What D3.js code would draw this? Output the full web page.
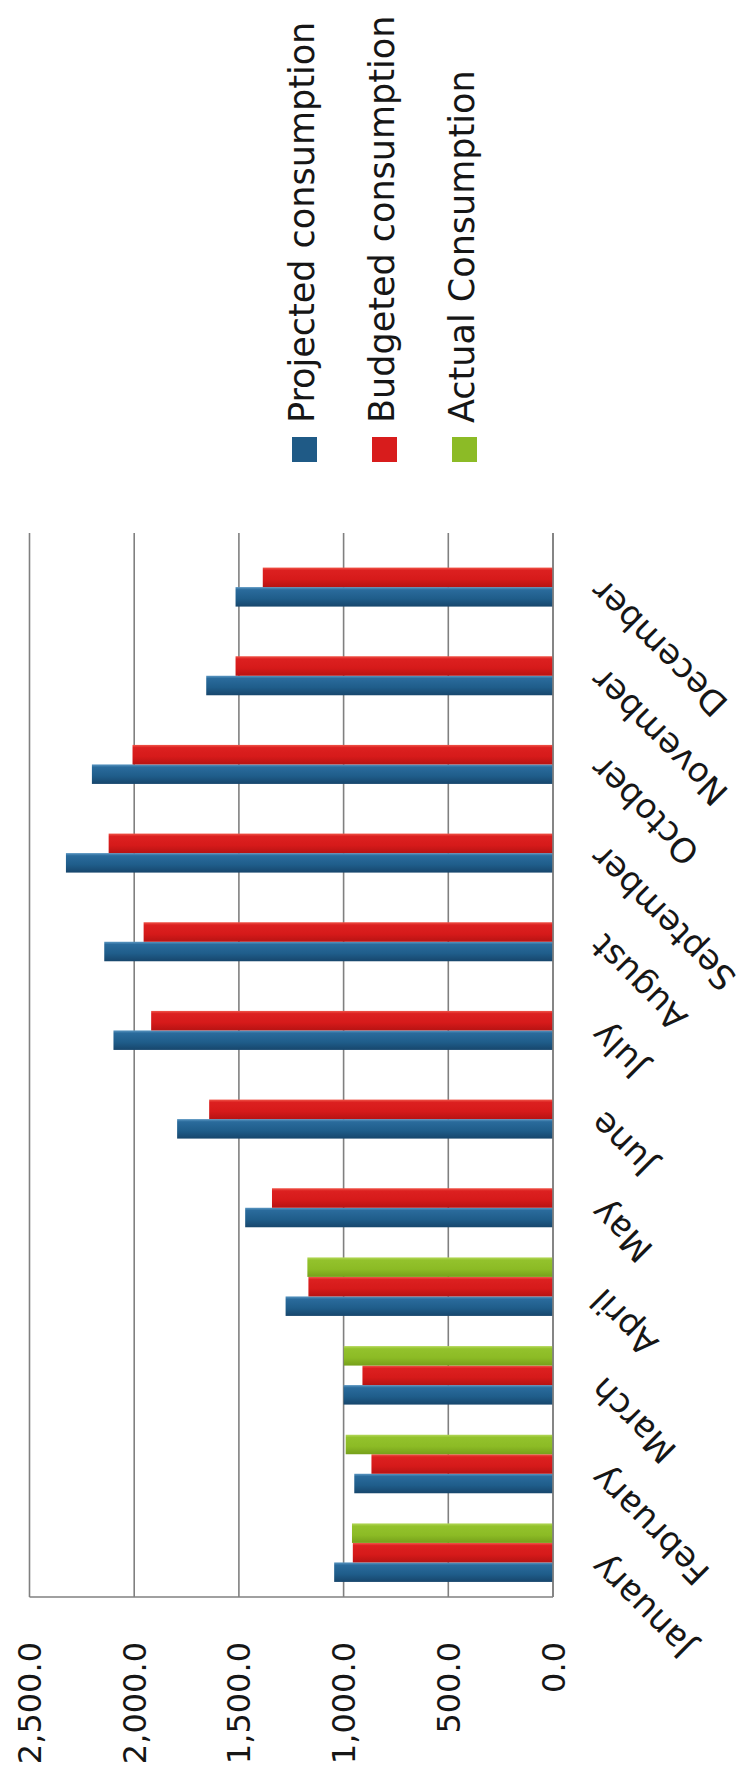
<!DOCTYPE html>
<html><head><meta charset="utf-8">
<script src="https://cdn.jsdelivr.net/npm/d3@7"></script>
<style>
body{margin:0;background:#fff}
text{font-family:"DejaVu Sans",sans-serif;fill:#161616}
</style>
</head><body>
<svg id="chart" width="750" height="1781"></svg>
<script>
// ---- data ----
const months = ["January","February","March","April","May","June","July","August","September","October","November","December"];
const seriesNames = ["Projected consumption","Budgeted consumption","Actual Consumption"];
const projected = [1045, 949, 1000, 1277, 1470, 1795, 2099, 2143, 2326, 2202, 1656, 1516];
const budgeted  = [ 956, 867,  910, 1168, 1342, 1642, 1919, 1955, 2122, 2008, 1516, 1386];
const actual    = [ 960, 990,  999, 1173, null, null, null, null, null, null, null, null];
const tickValues = [0, 500, 1000, 1500, 2000, 2500];
const tickLabels = ["0.0","500.0","1,000.0","1,500.0","2,000.0","2,500.0"];

// ---- style ----
const gradStops = {
  s0: [["0%","#5b97c2"],["14%","#2a6b9c"],["60%","#1f5d8a"],["100%","#17466c"]],
  s1: [["0%","#f0564a"],["14%","#dc2020"],["60%","#d61a1a"],["100%","#b71313"]],
  s2: [["0%","#b4d85a"],["14%","#93c22c"],["60%","#8cbb25"],["100%","#76a01b"]]
};
const swatchColors = ["#1f5a86","#d81c1c","#8cbb26"];

const svg = d3.select("#chart");
svg.append("rect").attr("width",750).attr("height",1781).attr("fill","#fff");

const defs = svg.append("defs");
Object.entries(gradStops).forEach(([id, stops]) => {
  const g = defs.append("linearGradient").attr("id","g"+id)
    .attr("x1",0).attr("y1",0).attr("x2",0).attr("y2",1);
  stops.forEach(s => g.append("stop").attr("offset",s[0]).attr("stop-color",s[1]));
});

const plotTop = 533, plotBottom = 1597;
const x = d3.scaleLinear().domain([0, 2500]).range([553, 29.5]);
const y = d3.scaleBand().domain(months).range([plotBottom, plotTop])
  .paddingInner(0.34).paddingOuter(0.17);
const keys = ["s2","s1","s0"]; // top to bottom within a group
const yi = d3.scaleBand().domain(keys).range([0, y.bandwidth()]);

// gridlines
svg.append("g").selectAll("line").data(tickValues).join("line")
  .attr("x1", d => x(d)).attr("x2", d => x(d))
  .attr("y1", plotTop).attr("y2", plotBottom)
  .attr("stroke", "#808080").attr("stroke-width", 1.6);

// bottom frame line
svg.append("line")
  .attr("x1", x(2500)).attr("x2", x(0))
  .attr("y1", plotBottom).attr("y2", plotBottom)
  .attr("stroke", "#808080").attr("stroke-width", 1.6);

// bars
const seriesData = [
  {key:"s0", values: projected},
  {key:"s1", values: budgeted},
  {key:"s2", values: actual}
];
const bars = svg.append("g");
seriesData.forEach(s => {
  bars.append("g").selectAll("rect")
    .data(months.map((m,i) => ({m, v: s.values[i]})).filter(d => d.v != null))
    .join("rect")
    .attr("x", d => x(d.v))
    .attr("width", d => x(0) - x(d.v))
    .attr("y", d => y(d.m) + yi(s.key))
    .attr("height", yi.bandwidth())
    .attr("fill", "url(#g" + s.key + ")");
});

// category axis line (value 0)
svg.append("line")
  .attr("x1", x(0)).attr("x2", x(0))
  .attr("y1", plotTop).attr("y2", plotBottom)
  .attr("stroke", "#808080").attr("stroke-width", 1.6);

// value tick labels
svg.append("g").selectAll("text").data(tickValues).join("text")
  .attr("transform", d => `translate(${x(d)},1642) rotate(-90)`)
  .attr("text-anchor","end")
  .attr("dy","0.36em")
  .style("font-size","32px")
  .text((d,i) => tickLabels[i]);

// month labels
svg.append("g").selectAll("text").data(months).join("text")
  .attr("transform", d => `translate(${x(0)+52},${y(d)+y.bandwidth()/2}) rotate(-135)`)
  .attr("text-anchor","end")
  .style("font-size","34px")
  .text(d => d);

// legend
const leg = svg.append("g").selectAll("g").data(seriesNames).join("g");
leg.append("rect")
  .attr("x", (d,i) => 292 + i*80).attr("y", 437)
  .attr("width", 25).attr("height", 25)
  .attr("fill", (d,i) => swatchColors[i]);
leg.append("text")
  .attr("transform", (d,i) => `translate(${314 + i*80},423) rotate(-90)`)
  .attr("text-anchor","start")
  .style("font-size","35px")
  .text(d => d);
</script>
</body></html>
